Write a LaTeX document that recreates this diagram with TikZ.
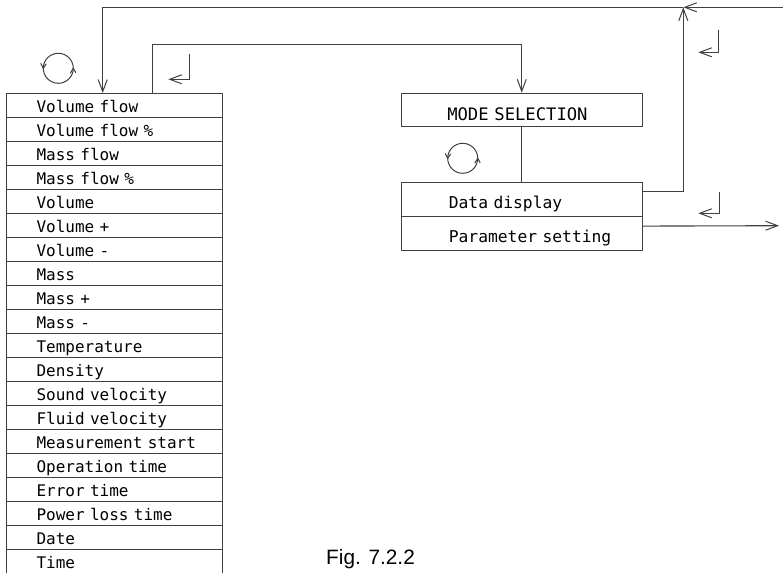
\documentclass[tikz,border=0pt]{standalone}
\usepackage{fontspec}
\setmainfont{Liberation Sans}
\newfontfamily\isofont{DejaVu Sans Mono}
\usetikzlibrary{arrows.meta}
\definecolor{linec}{gray}{0.25}
\tikzset{
  ln/.style={draw=linec, line width=1.1pt},
  tip/.style={-{Straight Barb[length=12pt,width=9pt,line width=1pt]}},
  rowbox/.style={ln, anchor=north west, minimum width=216pt, minimum height=24pt,
     inner xsep=30pt, inner ysep=0pt, text width=156pt, align=left,
     text height=18.7pt, text depth=5.3pt, font=\isofont\fontsize{16}{17}\selectfont},
  rbox/.style={ln, anchor=north west, minimum width=241pt,
     inner xsep=47.6pt, inner ysep=0pt, text width=145.8pt, align=left,
     text height=26pt, text depth=8pt, font=\isofont\fontsize{16.3}{17}\selectfont},
  modebox/.style={rbox, inner xsep=46pt, text width=149pt, text height=27pt, text depth=6.3pt,
     font=\isofont\fontsize{17.2}{18}\selectfont},
  rot/.style={ln, line width=1pt},
}
\begin{document}
\begin{tikzpicture}[x=1pt,y=-1pt]
\useasboundingbox (0,0) rectangle (783,572);
% left list
\foreach \t [count=\i] in {Volume flow,Volume flow \%,Mass flow,Mass flow \%,Volume,Volume +,Volume -,Mass,Mass +,Mass -,Temperature,Density,Sound velocity,Fluid velocity,Measurement start,Operation time,Error time,Power loss time,Date,Time}
  \node[rowbox] (r\i) at (6,{93+24*(\i-1)}) {\mbox{\t}};
% right boxes
\node[modebox] (mode) at (400.7,92.7) {\mbox{MODE SELECTION}};
\node[rbox] (data) at (400.7,181.7) {\mbox{Data display}};
\node[rbox] (param) at (400.7,215.7) {\mbox{Parameter setting}};
% connectors
\draw[ln] (mode.south) -- (data.north);
\coordinate (jn) at (683.3,7.3);
\coordinate (inr) at (783,7.3);
\coordinate (pout) at (779,225.7);
\draw[ln,tip] ([yshift=7.7pt]data.east) -| (jn);
\draw[ln,tip] (inr) -- (jn);
\draw[ln,tip] (jn) -| ([xshift=96.7pt]r1.north west);
\draw[ln,tip] ([xshift=146.7pt]r1.north west) -- ++(0,-48.7) -| (mode.north);
\draw[ln,tip] ([yshift=7.15pt]param.east) -- (pout);
% return symbols
\draw[ln,line width=1pt,tip] (189,54) -- (189,79.3) -- (168.3,79.3);
\draw[ln,line width=1pt,tip] (718.3,30) -- (718.3,52.3) -- (698.3,52.3);
\draw[ln,line width=1pt,tip] (719,191.7) -- (719,213.3) -- (698.3,213.3);
% rotation symbols
\foreach \cx/\cy in {58.3/68.3, 462.7/158.3}{
  \draw[rot] (\cx,\cy) circle (15);
  \draw[rot] (\cx-17.5,\cy-5) -- (\cx-15,\cy) -- (\cx-12,\cy-4.5);
  \draw[rot] (\cx+12,\cy+5) -- (\cx+15,\cy) -- (\cx+17.5,\cy+4.5);
}
\node[anchor=base west, font=\fontsize{20.8}{23}\selectfont, inner sep=0pt] (fig) at (326,564) {Fig. 7.2.2};
\end{tikzpicture}
\end{document}
